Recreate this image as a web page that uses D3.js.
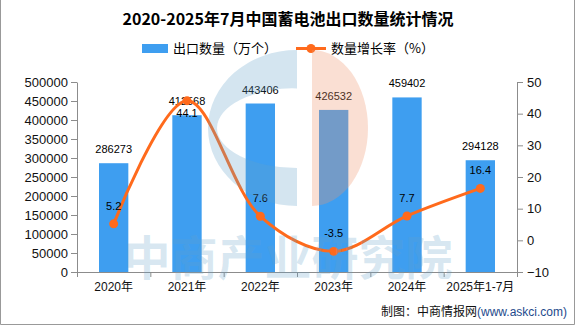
<!DOCTYPE html>
<html>
<head>
<meta charset="utf-8">
<script src="https://cdn.jsdelivr.net/npm/d3@7"></script>
<style>
  html, body { margin: 0; padding: 0; background: #fff; }
  svg { display: block; }
  text { font-family: "Liberation Sans", Arial, "Noto Sans CJK SC", sans-serif; }
  .cjk { font-family: "Noto Sans CJK SC", sans-serif; }
</style>
</head>
<body>
<svg width="576" height="327"></svg>
<script>
// export quantity (10k units) and year-on-year growth (%)
const years = ["2020年", "2021年", "2022年", "2023年", "2024年", "2025年1-7月"];
const exportQty = [286273, 412568, 443406, 426532, 459402, 294128];
const growthRate = [5.2, 44.1, 7.6, -3.5, 7.7, 16.4];
const qtyTicks = [0, 50000, 100000, 150000, 200000, 250000, 300000, 350000, 400000, 450000, 500000];
const rateTicks = [-10, 0, 10, 20, 30, 40, 50];

const svg = d3.select("svg");
const W = 576, H = 327;
const plotL = 77, plotR = 517, plotT = 82, plotB = 272;

const barColor = "#3e9ef0", lineColor = "#ff6a1c", axisColor = "#8c8c8c";

const x = d3.scaleBand().domain(years).range([plotL, plotR]).paddingInner(0.6).paddingOuter(0.3);
const xEdges = d3.scaleLinear().domain([0, years.length]).range([plotL, plotR]);
const yL = d3.scaleLinear().domain([0, 500000]).range([plotB, plotT]);
const yR = d3.scaleLinear().domain([-10, 50]).range([plotB, plotT]);

// outer frame
svg.append("path")
  .attr("d", `M0.5,0 V${H - 2.5} H${W - 1.5} V0`)
  .attr("fill", "none").attr("stroke", "#999");

// title
svg.append("text").attr("class", "cjk")
  .attr("x", 288).attr("y", 25).attr("text-anchor", "middle")
  .attr("font-size", 16).attr("font-weight", 700)
  .text("2020-2025年7月中国蓄电池出口数量统计情况");

// legend
const lg = svg.append("g").attr("font-size", 13);
lg.append("rect").attr("x", 142).attr("y", 44).attr("width", 26).attr("height", 9).attr("fill", barColor);
lg.append("text").attr("class", "cjk").attr("x", 173).attr("y", 53).text("出口数量（万个）");
lg.append("line").attr("x1", 296).attr("x2", 326).attr("y1", 48.5).attr("y2", 48.5)
  .attr("stroke", lineColor).attr("stroke-width", 3);
lg.append("circle").attr("cx", 311).attr("cy", 48.5).attr("r", 4.5).attr("fill", lineColor);
lg.append("text").attr("class", "cjk").attr("x", 331).attr("y", 53).text("数量增长率（%）");

// bars
svg.append("g").selectAll("rect").data(exportQty).join("rect")
  .attr("x", (d, i) => x(years[i]))
  .attr("y", d => yL(d))
  .attr("width", x.bandwidth())
  .attr("height", d => yL(0) - yL(d))
  .attr("fill", barColor);

// axes
function styleAxis(g) {
  g.selectAll(".domain, line").attr("stroke", axisColor);
  g.selectAll("text").attr("fill", "#111");
}
svg.append("g").attr("transform", `translate(${plotL},0)`)
  .call(d3.axisLeft(yL).tickValues(qtyTicks).tickSize(6).tickSizeOuter(0).tickPadding(3).tickFormat(d3.format("d")))
  .attr("font-size", 13).attr("font-family", null)
  .call(styleAxis);
svg.append("g").attr("transform", `translate(${plotR},0)`)
  .call(d3.axisRight(yR).tickValues(rateTicks).tickSize(6).tickSizeOuter(0).tickPadding(4))
  .attr("font-size", 13).attr("font-family", null)
  .call(styleAxis);
svg.append("g").attr("transform", `translate(0,${plotB})`)
  .call(d3.axisBottom(xEdges).ticks(years.length).tickSize(5).tickSizeOuter(0).tickFormat(""))
  .call(styleAxis);
svg.append("g").attr("transform", `translate(0,${plotB})`)
  .call(d3.axisBottom(x).tickSize(0).tickPadding(10))
  .attr("font-size", 12).attr("font-family", null)
  .call(g => g.select(".domain").remove())
  .call(styleAxis);

// bar value labels
svg.append("g").attr("font-size", 11).attr("text-anchor", "middle")
  .selectAll("text").data(exportQty).join("text")
  .attr("x", (d, i) => x(years[i]) + x.bandwidth() / 2)
  .attr("y", d => yL(d) - 10)
  .text(d => d);

// growth line
const cx = i => x(years[i]) + x.bandwidth() / 2;
svg.append("path")
  .datum(growthRate)
  .attr("d", d3.line().x((d, i) => cx(i)).y(d => yR(d)).curve(d3.curveCatmullRom.alpha(0.5)))
  .attr("fill", "none").attr("stroke", lineColor).attr("stroke-width", 3);
svg.append("g").selectAll("circle").data(growthRate).join("circle")
  .attr("cx", (d, i) => cx(i)).attr("cy", d => yR(d)).attr("r", 4.5).attr("fill", lineColor);

// growth labels: below the point when it sits above its bar
svg.append("g").attr("font-size", 11).attr("text-anchor", "middle")
  .selectAll("text").data(growthRate).join("text")
  .attr("x", (d, i) => cx(i))
  .attr("y", (d, i) => yR(d) < yL(exportQty[i]) ? yR(d) + 16 : yR(d) - 14)
  .text(d => d);

// watermark logo and name
const wm = svg.append("g").attr("pointer-events", "none");
wm.append("path")
  .attr("d", "M297,50 A89,78 0 0 0 297,206 Z M297,88 A80,40 0 0 0 297,168 Z")
  .attr("fill-rule", "evenodd")
  .attr("fill", "rgba(100,160,200,0.28)");
wm.append("path")
  .attr("d", "M312,50 A56,78 0 0 1 312,206 Z")
  .attr("fill", "rgba(240,150,110,0.3)");
wm.append("text").attr("class", "cjk")
  .attr("x", 288).attr("y", 275).attr("text-anchor", "middle")
  .attr("font-size", 47).attr("font-weight", 700)
  .attr("fill", "rgba(100,160,200,0.25)")
  .text("中商产业研究院");

// source note
const src = svg.append("text").attr("x", 567).attr("y", 316).attr("text-anchor", "end").attr("font-size", 12);
src.append("tspan").attr("class", "cjk").attr("fill", "#111").text("制图：中商情报网");
src.append("tspan").attr("fill", "#1e4a8c").text("(www.askci.com)");
</script>
</body>
</html>
